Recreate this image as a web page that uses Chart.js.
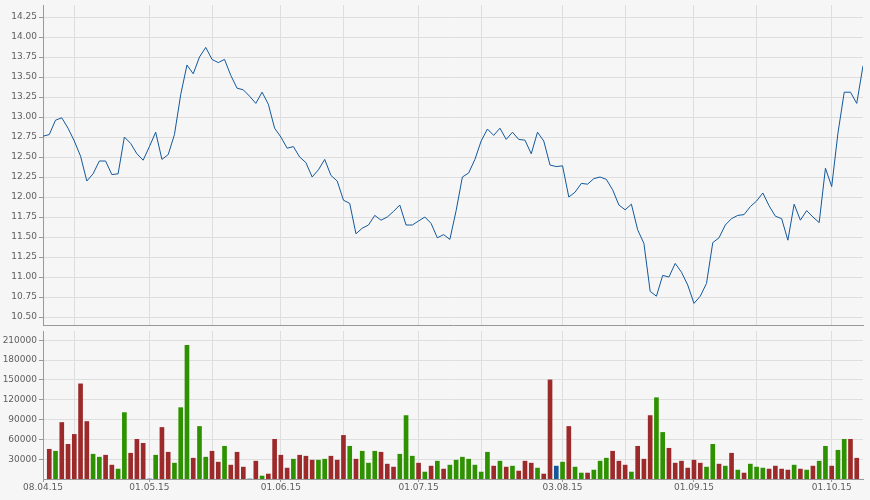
<!DOCTYPE html>
<html>
<head>
<meta charset="utf-8">
<script src="https://cdn.jsdelivr.net/npm/chart.js@4/dist/chart.umd.min.js"></script>
<style>
  html, body { margin: 0; padding: 0; background: #f6f6f6; }
  #wrap { position: relative; width: 870px; height: 500px; }
  #price { position: absolute; left: 0; top: 0; }
  #volume { position: absolute; left: 0; top: 330px; }
</style>
</head>
<body>
<div id="wrap">
  <canvas id="price" width="870" height="330"></canvas>
  <canvas id="volume" width="870" height="170"></canvas>
</div>
<script>
// closing prices, one per trading day from 08.04.15
const prices = [
  12.76, 12.78, 12.96, 12.99, 12.86, 12.70, 12.51, 12.20, 12.29, 12.45,
  12.45, 12.28, 12.29, 12.75, 12.67, 12.54, 12.46, 12.63, 12.81, 12.47,
  12.53, 12.78, 13.28, 13.65, 13.54, 13.75, 13.87, 13.72, 13.68, 13.72,
  13.52, 13.36, 13.34, 13.26, 13.17, 13.31, 13.16, 12.86, 12.75, 12.61,
  12.63, 12.50, 12.43, 12.25, 12.34, 12.47, 12.27, 12.20, 11.96, 11.92,
  11.54, 11.61, 11.65, 11.77, 11.71, 11.75, 11.82, 11.90, 11.65, 11.65,
  11.70, 11.75, 11.67, 11.49, 11.53, 11.47, 11.83, 12.25, 12.30, 12.47,
  12.70, 12.85, 12.77, 12.86, 12.72, 12.81, 12.72, 12.71, 12.54, 12.81,
  12.70, 12.40, 12.38, 12.39, 12.00, 12.06, 12.17, 12.16, 12.23, 12.25,
  12.22, 12.09, 11.90, 11.84, 11.91, 11.59, 11.42, 10.82, 10.76, 11.02,
  11.00, 11.17, 11.06, 10.90, 10.67, 10.76, 10.92, 11.43, 11.49, 11.65,
  11.73, 11.77, 11.78, 11.88, 11.95, 12.05, 11.89, 11.76, 11.73, 11.46,
  11.91, 11.71, 11.83, 11.75, 11.68, 12.36, 12.13, 12.80, 13.31, 13.31,
  13.17, 13.64
];

const volumes = [
  null, 45000, 42000, 85500, 52500, 67500, 144000, 87000, 37500, 33000,
  36000, 21000, 15000, 100500, 39000, 60000, 54000, 0, 36000, 78000,
  40500, 24000, 108000, 202500, 31500, 79500, 33000, 42000, 25500, 49500,
  21000, 40500, 18000, 0, 27000, 4500, 7500, 60000, 36000, 16500,
  30000, 36000, 34500, 28500, 28500, 30000, 34500, 28500, 66000, 49500,
  30000, 42000, 24000, 42000, 40500, 22500, 18000, 37500, 96000, 34500,
  24000, 10500, 19500, 27000, 15000, 21000, 28500, 33000, 30000, 21000,
  10500, 40500, 19500, 27000, 18000, 19500, 12000, 27000, 24000, 16500,
  7500, 150000, 19500, 25500, 79500, 18000, 9000, 9000, 13500, 27000,
  31500, 42000, 27000, 21000, 10500, 49500, 30000, 96000, 123000, 70500,
  46500, 24000, 27000, 16500, 28500, 24000, 18000, 52500, 22500, 19500,
  39000, 13500, 9000, 22500, 18000, 16500, 15000, 19500, 15000, 13500,
  21000, 15000, 13500, 19500, 27000, 49500, 19500, 43500, 60000, 60000,
  31500, null
];

// 1 = up day, -1 = down day, 0 = unchanged
const moves = [
  0, -1, 1, -1, -1, -1, -1, -1, 1, 1,
  -1, -1, 1, 1, -1, -1, -1, 0, 1, -1,
  -1, 1, 1, 1, -1, 1, 1, -1, -1, 1,
  -1, -1, -1, 0, -1, 1, -1, -1, -1, -1,
  1, -1, -1, -1, 1, 1, -1, -1, -1, 1,
  -1, 1, 1, 1, -1, -1, -1, 1, 1, 1,
  -1, 1, -1, 1, -1, 1, 1, 1, 1, 1,
  1, 1, -1, 1, -1, 1, -1, -1, -1, 1,
  -1, -1, 0, 1, -1, 1, 1, -1, 1, 1,
  1, -1, -1, -1, 1, -1, -1, -1, 1, 1,
  -1, -1, -1, -1, -1, -1, 1, 1, -1, 1,
  -1, 1, -1, 1, 1, 1, -1, -1, -1, -1,
  1, -1, 1, -1, 1, 1, -1, 1, 1, -1,
  -1, 0
];

const priceTicks = [10.5, 10.75, 11, 11.25, 11.5, 11.75, 12, 12.25, 12.5, 12.75,
  13, 13.25, 13.5, 13.75, 14, 14.25];
const volumeTicks = [30000, 60000, 90000, 120000, 150000, 180000, 210000];

// trading days (weekdays) starting 08.04.2015
const dates = [];
let d = new Date(2015, 3, 8);
while (dates.length < prices.length) {
  if (d.getDay() != 0 && d.getDay() != 6) dates.push(new Date(d));
  d.setDate(d.getDate() + 1);
}

function fmt(dt) {
  const p = n => String(n).padStart(2, '0');
  return p(dt.getDate()) + '.' + p(dt.getMonth() + 1) + '.' + String(dt.getFullYear()).slice(2);
}

// grid at first day of each month and first day on/after the 15th, label at month starts
const gridIdx = [];
const labelAt = {};
labelAt[0] = fmt(dates[0]);
gridIdx.push(0);
for (let i = 1; i < dates.length; i++) {
  const a = dates[i - 1], b = dates[i];
  if (b.getMonth() != a.getMonth()) {
    gridIdx.push(i);
    labelAt[i] = fmt(b);
  } else if (b.getDate() >= 15 && a.getDate() < 15) {
    gridIdx.push(i);
  }
}

const GRID = '#dedede';
const AXIS = '#999999';
const TEXT = '#5e5e5e';
const LINE = '#12589b';
const UP = '#2e9200';
const DOWN = '#9c2a2a';
const FLAT = '#12589b';
const font = { family: 'DejaVu Sans', size: 9 };
const last = prices.length - 1;

// fixed axis width, and no extra room for the end labels
function fitY(s) {
  s.width = 43;
  s.paddingTop = 0;
  s.paddingBottom = 0;
}

new Chart(document.getElementById('price'), {
  type: 'line',
  data: {
    datasets: [{
      data: prices.map((v, i) => ({ x: i, y: v })),
      borderColor: LINE,
      borderWidth: 1,
      pointRadius: 0,
      tension: 0,
      fill: false
    }]
  },
  options: {
    responsive: false,
    animation: false,
    devicePixelRatio: 1,
    layout: { padding: { top: 5, right: 7, bottom: 5, left: 0 } },
    plugins: { legend: { display: false }, tooltip: { enabled: false } },
    scales: {
      x: {
        type: 'linear',
        min: 0,
        max: last,
        afterBuildTicks: s => { s.ticks = gridIdx.map(v => ({ value: v })); },
        afterFit: s => { s.height = 0; s.paddingLeft = 0; s.paddingRight = 0; },
        ticks: { display: false },
        grid: { color: GRID, drawTicks: false },
        border: { color: AXIS }
      },
      y: {
        min: 10.4,
        max: 14.4,
        afterBuildTicks: s => { s.ticks = priceTicks.map(v => ({ value: v })); },
        afterFit: fitY,
        ticks: { font: font, color: TEXT, padding: 2, callback: v => v.toFixed(2) },
        grid: { color: GRID, tickLength: 4, tickColor: AXIS },
        border: { color: AXIS }
      }
    }
  }
});

new Chart(document.getElementById('volume'), {
  type: 'bar',
  data: {
    datasets: [{
      data: volumes.map((v, i) => ({ x: i, y: v })),
      backgroundColor: moves.map(m => m > 0 ? UP : (m < 0 ? DOWN : FLAT)),
      barThickness: 4,
      borderWidth: 0
    }]
  },
  options: {
    responsive: false,
    animation: false,
    devicePixelRatio: 1,
    layout: { padding: { top: 1, right: 7, bottom: 0, left: 0 } },
    plugins: { legend: { display: false }, tooltip: { enabled: false } },
    scales: {
      x: {
        type: 'linear',
        min: 0,
        max: last,
        offset: false,
        afterBuildTicks: s => { s.ticks = gridIdx.map(v => ({ value: v })); },
        afterFit: s => { s.height = 21; s.paddingLeft = 0; s.paddingRight = 0; },
        ticks: {
          font: font, color: TEXT, padding: 0, maxRotation: 0, autoSkip: false,
          callback: v => labelAt[v] || ''
        },
        grid: {
          offset: false,
          color: GRID,
          tickLength: 3,
          tickColor: ctx => (ctx.tick && labelAt[ctx.tick.value]) ? AXIS : 'rgba(0,0,0,0)'
        },
        border: { color: AXIS }
      },
      y: {
        min: 0,
        max: 224000,
        afterBuildTicks: s => { s.ticks = volumeTicks.map(v => ({ value: v })); },
        afterFit: fitY,
        ticks: { font: font, color: TEXT, padding: 2, callback: v => String(v) },
        grid: { color: GRID, tickLength: 4, tickColor: AXIS },
        border: { color: AXIS }
      }
    }
  }
});
</script>
</body>
</html>
